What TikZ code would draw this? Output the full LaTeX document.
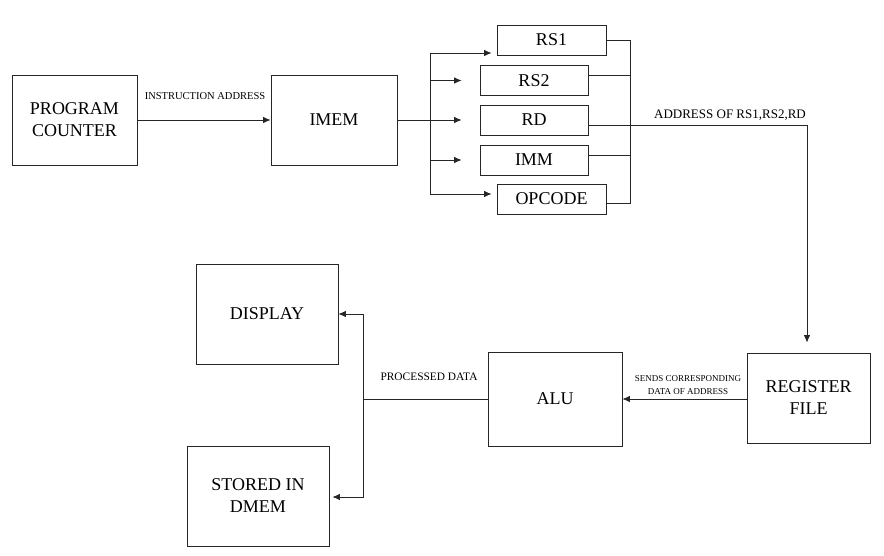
\documentclass[tikz,border=0pt]{standalone}
\usepackage{fontspec}
\setmainfont{Liberation Serif}
\usetikzlibrary{arrows.meta}
\begin{document}
\begin{tikzpicture}[x=1pt,y=-1pt,
  blk/.style={draw=black!85,line width=0.8pt,rectangle,inner sep=0pt,align=center,font=\fontsize{18}{22}\selectfont},
  ln/.style={draw=black!85,line width=0.8pt},
  arr/.style={ln,-{Latex[length=7.5pt,width=6.5pt]}},
  lbl/.style={inner sep=0pt,align=center}]
\useasboundingbox (0,0) rectangle (884,556);
% blocks
\node[blk,minimum width=125,minimum height=90] (pc) at (74.5,120) {PROGRAM\\COUNTER};
\node[blk,minimum width=126,minimum height=90] (imem) at (334,120) {IMEM};
\node[blk,minimum width=109,minimum height=30] (rs1) at (551.5,40) {RS1};
\node[blk,minimum width=108,minimum height=30] (rs2) at (534,80.5) {RS2};
\node[blk,minimum width=108,minimum height=30] (rd) at (534,120) {RD};
\node[blk,minimum width=108,minimum height=30] (imm) at (534,160) {IMM};
\node[blk,minimum width=109,minimum height=30] (opc) at (551.5,199) {OPCODE};
\node[blk,minimum width=123,minimum height=90] (rf) at (808.5,398) {REGISTER\\FILE};
\node[blk,minimum width=134,minimum height=94] (alu) at (555,399) {ALU};
\node[blk,minimum width=142,minimum height=100] (disp) at (267,314) {DISPLAY};
\node[blk,minimum width=142,minimum height=100] (dmem) at (258,496) {STORED IN\\DMEM};
% labels
\node[lbl,font=\fontsize{10.5}{12}\selectfont] (l1) at (205,96) {INSTRUCTION ADDRESS};
\node[lbl,font=\fontsize{13}{15}\selectfont] (l2) at (730,115) {ADDRESS OF RS1,RS2,RD};
\node[lbl,font=\fontsize{9}{13}\selectfont] (l3) at (688,385) {SENDS CORRESPONDING\\DATA OF ADDRESS};
\node[lbl,font=\fontsize{11.4}{13}\selectfont] (l4) at (429,377) {PROCESSED DATA};
% PC -> IMEM
\draw[arr] (pc.east) -- (imem.west);
% IMEM fan-out
\coordinate (ja) at (430,53);
\coordinate (jb) at (430,194);
\draw[ln] (ja) -- (jb);
\draw[arr,shorten >=18pt] (imem.east) -- (rd.west);
\draw[arr] (ja) -- ([xshift=-5pt]rs1.west |- ja);
\draw[arr,shorten >=18pt] (ja |- rs2.west) -- (rs2.west);
\draw[arr,shorten >=18pt] (ja |- imm.west) -- (imm.west);
\draw[arr] (jb) -- ([xshift=-5pt]opc.west |- jb);
% right collector
\coordinate (ka) at (630,40);
\coordinate (kb) at (630,203);
\coordinate (rs2e) at ([yshift=5.5pt]rs2.east);
\coordinate (imme) at ([yshift=5pt]imm.east);
\coordinate (rde) at ([yshift=-5pt]rd.east);
\draw[ln] (rs1.east) -- (ka) -- (kb) -- (opc.east |- kb);
\draw[ln] (rs2e) -- (ka |- rs2e);
\draw[ln] (imme) -- (ka |- imme);
% RD -> register file
\coordinate (kc) at (807,125);
\draw[arr,shorten >=10pt] (rde) -- (kc) -- (kc |- rf.north);
% RF -> ALU
\draw[arr] (rf.west |- alu.east) -- (alu.east);
% ALU -> display / dmem
\coordinate (m) at (363,399);
\coordinate (mt) at (363,314);
\coordinate (mb) at (363,497);
\draw[ln] (alu.west) -- (m);
\draw[arr] (m) -- (mt) -- (disp.east |- mt);
\draw[arr] (m) -- (mb) -- ([xshift=3pt]dmem.east |- mb);
\end{tikzpicture}
\end{document}
